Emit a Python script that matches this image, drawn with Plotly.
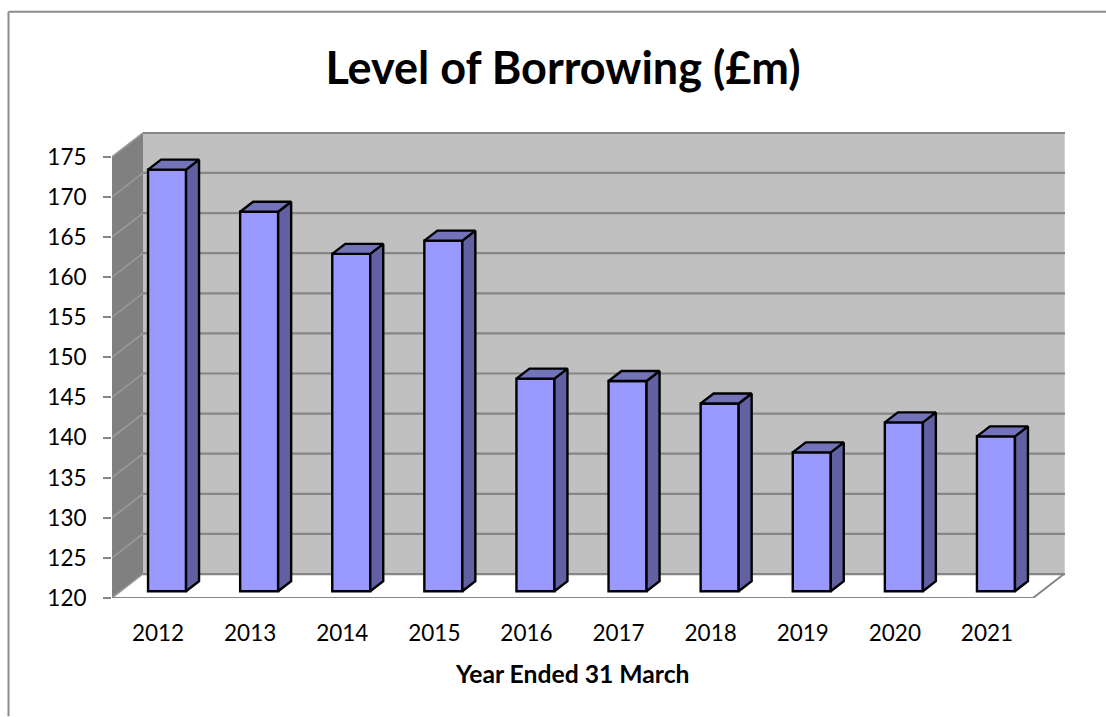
import plotly.graph_objects as go

# Borrowing at each year end, in millions of pounds
years = ["2012", "2013", "2014", "2015", "2016", "2017", "2018", "2019", "2020", "2021"]
borrowing = [172.55, 167.3, 162.05, 163.7, 146.5, 146.2, 143.4, 137.3, 141.05, 139.3]
y_ticks = list(range(120, 176, 5))

FONT = "Lato"
WALL_LINE = "#868686"
Y_MIN, Y_MAX = 120, 175

# Pixel frame of the plot area
WIDTH, HEIGHT = 1106, 717
LEFT, RIGHT, TOP, BOTTOM = 112, 1065, 132, 598.5
CAT_PX = 92.1
UNIT_PX = 8.03
x_low = -0.5
x_high = x_low + (RIGHT - LEFT) / CAT_PX
y_high = Y_MIN + (BOTTOM - TOP) / UNIT_PX

# Perspective offsets of the box and of each column, in axis units
WALL_DX, WALL_DY = 31 / CAT_PX, 24 / UNIT_PX
BAR_DX, BAR_DY = 13 / CAT_PX, 10 / UNIT_PX
BAR_WIDTH = 38 / CAT_PX
BAR_SHIFT = 9 / CAT_PX
BAR_LIFT = 0.85

fig = go.Figure()

# Front faces of the columns
fig.add_bar(
    x=[i + BAR_SHIFT for i in range(len(years))],
    y=[v - Y_MIN for v in borrowing],
    base=Y_MIN + BAR_LIFT,
    width=BAR_WIDTH,
    marker=dict(color="#9999FF", line=dict(color="black", width=2.4)),
    hoverinfo="skip",
    showlegend=False,
)

# Side and top faces, built from the same values
for i, v in enumerate(borrowing):
    x0 = i + BAR_SHIFT - BAR_WIDTH / 2
    x1 = i + BAR_SHIFT + BAR_WIDTH / 2
    y0 = Y_MIN + BAR_LIFT
    y1 = v + BAR_LIFT
    fig.add_scatter(
        x=[x1, x1 + BAR_DX, x1 + BAR_DX, x1, x1],
        y=[y0, y0 + BAR_DY, y1 + BAR_DY, y1, y0],
        mode="lines", fill="toself", fillcolor="#6060A2",
        line=dict(color="black", width=2.4),
        hoverinfo="skip", showlegend=False,
    )
    fig.add_scatter(
        x=[x0, x0 + BAR_DX, x1 + BAR_DX, x1, x0],
        y=[y1, y1 + BAR_DY, y1 + BAR_DY, y1, y1],
        mode="lines", fill="toself", fillcolor="#7373BA",
        line=dict(color="black", width=2.4),
        hoverinfo="skip", showlegend=False,
    )

# Front edge of the floor, its right edge and the category tick marks
edge_x, edge_y = [x_low, x_low + len(years)], [Y_MIN, Y_MIN]
edge_x += [x_low + len(years) + WALL_DX]
edge_y += [Y_MIN + WALL_DY]
fig.add_scatter(
    x=edge_x, y=edge_y, mode="lines", cliponaxis=False,
    line=dict(color=WALL_LINE, width=2), hoverinfo="skip", showlegend=False,
)
tick_x, tick_y = [], []
for i in range(len(years) + 1):
    tick_x += [x_low + i, x_low + i, None]
    tick_y += [Y_MIN, Y_MIN - 8 / UNIT_PX, None]
fig.add_scatter(
    x=tick_x, y=tick_y, mode="lines", cliponaxis=False,
    line=dict(color=WALL_LINE, width=2), hoverinfo="skip", showlegend=False,
)

# Box walls and gridlines sit underneath the columns
shapes = [
    dict(type="path", layer="below", xref="x", yref="y", line=dict(width=0), fillcolor="#808080",
         path=f"M {x_low} {Y_MIN} L {x_low + WALL_DX} {Y_MIN + WALL_DY} "
              f"L {x_low + WALL_DX} {Y_MAX + WALL_DY} L {x_low} {Y_MAX} Z"),
    dict(type="rect", layer="below", xref="x", yref="y", line=dict(width=0), fillcolor="#C0C0C0",
         x0=x_low + WALL_DX, x1=x_high, y0=Y_MIN + WALL_DY, y1=Y_MAX + WALL_DY),
    dict(type="line", layer="below", xref="x", yref="y", line=dict(color="#E2E2E2", width=1),
         x0=x_high, x1=x_high, y0=Y_MIN + WALL_DY, y1=Y_MAX + WALL_DY),
]
for t in y_ticks:
    shapes.append(dict(type="line", layer="below", xref="x", yref="y",
                       line=dict(color="#9A9A9A", width=1.5),
                       x0=x_low, x1=x_low + WALL_DX, y0=t, y1=t + WALL_DY))
    shapes.append(dict(type="line", layer="below", xref="x", yref="y",
                       line=dict(color=WALL_LINE, width=2.2),
                       x0=x_low + WALL_DX, x1=x_high, y0=t + WALL_DY, y1=t + WALL_DY))

# Chart frame: only the top and left edges fall inside the page
plot_w, plot_h = RIGHT - LEFT, BOTTOM - TOP
frame_x = (8.5 - LEFT) / plot_w
frame_y = (BOTTOM - 11.5) / plot_h
frame_line = dict(color="#8C8C8C", width=2)
shapes.append(dict(type="line", xref="paper", yref="paper", line=frame_line,
                   x0=frame_x, x1=frame_x, y0=frame_y, y1=(BOTTOM - HEIGHT) / plot_h))
shapes.append(dict(type="line", xref="paper", yref="paper", line=frame_line,
                   x0=frame_x, x1=(WIDTH - LEFT) / plot_w, y0=frame_y, y1=frame_y))

fig.update_layout(
    width=WIDTH, height=HEIGHT, autosize=False,
    margin=dict(l=LEFT, r=WIDTH - RIGHT, t=TOP, b=HEIGHT - BOTTOM, pad=0),
    paper_bgcolor="white", plot_bgcolor="white",
    font=dict(family=FONT, color="black", size=22.5),
    shapes=shapes,
    showlegend=False,
    title=dict(text="<b>Level of Borrowing (£m)</b>", font=dict(family=FONT, size=45, color="black"),
               x=563 / WIDTH, xanchor="center", y=1 - 68 / HEIGHT, yanchor="middle"),
    # The axis caption is centred under the categories rather than the whole box
    annotations=[dict(
        text="<b>Year Ended 31 March</b>", xref="paper", yref="paper", showarrow=False,
        x=(572 - LEFT) / plot_w, y=(BOTTOM - 674) / plot_h, xanchor="center", yanchor="middle",
        font=dict(family=FONT, size=24.7, color="black"),
    )],
    xaxis=dict(
        range=[x_low, x_high], tickmode="array", tickvals=list(range(len(years))), ticktext=years,
        ticks="outside", ticklen=15, tickcolor="rgba(0,0,0,0)", showgrid=False, zeroline=False,
        showline=False, tickfont=dict(family=FONT, size=22.5, color="black"),
    ),
    yaxis=dict(
        range=[Y_MIN, y_high], tickmode="array", tickvals=y_ticks,
        ticks="outside", ticklen=8, tickwidth=2, tickcolor=WALL_LINE, showgrid=False, zeroline=False,
        showline=False, ticklabelstandoff=12, tickfont=dict(family=FONT, size=22.5, color="black"),
    ),
)

fig.write_html("out.html")
